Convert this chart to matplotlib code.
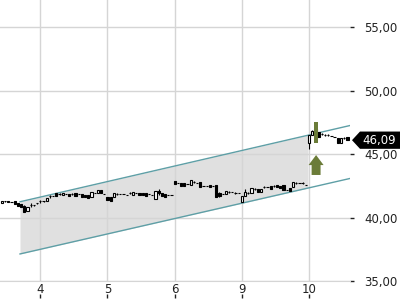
import matplotlib
matplotlib.use("Agg")
import matplotlib.pyplot as plt
from matplotlib.patches import Polygon, Rectangle
import numpy as np

opens = [41.14, 41.30, 41.28, 41.24, 41.30, 41.14, 41.06, 40.91, 40.51, 40.96,
         40.99, 41.12, 41.28, 41.31, 41.30, 41.67, 41.70, 41.93, 41.84, 41.77,
         41.86, 41.85, 41.84, 41.93, 41.86, 41.85, 41.77, 41.77, 41.61, 41.94,
         41.93, 42.17, 41.86, 41.61, 41.61, 41.61, 41.84, 41.86, 41.86, 41.78,
         41.92, 41.77, 41.94, 41.93, 41.93, 41.93, 41.86, 41.78, 41.46, 42.09,
         41.93, 41.85, 41.78, 41.78, 42.87, 42.73, 42.72, 42.72, 42.65, 42.56,
         42.79, 42.73, 42.80, 42.49, 42.49, 42.56, 42.49, 42.56, 41.93, 41.86,
         41.85, 42.00, 42.02, 41.92, 41.94, 41.22, 41.69, 41.92, 41.93, 42.23,
         42.24, 42.01, 42.39, 42.41, 42.48, 42.47, 42.56, 42.48, 42.56, 42.18,
         42.32, 42.40, 42.71, 42.73, 42.71, 42.57, 45.87, 46.50, 46.65, 46.73,
         46.56, 46.48, 46.48, 46.43, 46.35, 46.26, 45.87, 46.24, 46.34]
highs = [41.33, 41.32, 41.30, 41.26, 41.32, 41.16, 41.08, 40.95, 40.86, 41.14,
         41.01, 41.17, 41.38, 41.33, 41.57, 41.77, 41.72, 41.95, 41.93, 41.96,
         41.88, 41.87, 41.93, 41.95, 41.88, 41.87, 41.79, 41.79, 42.04, 41.96,
         42.20, 42.20, 41.88, 41.63, 41.63, 41.96, 41.93, 41.88, 41.88, 41.80,
         42.01, 42.04, 41.96, 41.95, 41.95, 41.95, 41.88, 41.80, 42.12, 42.24,
         41.95, 41.87, 41.80, 41.80, 42.90, 42.75, 42.74, 42.74, 42.67, 42.98,
         42.90, 42.75, 42.82, 42.51, 42.51, 42.58, 42.51, 42.58, 41.98, 41.88,
         42.12, 42.09, 42.04, 42.01, 41.96, 41.72, 42.24, 42.01, 42.35, 42.32,
         42.26, 42.27, 42.48, 42.43, 42.50, 42.56, 42.58, 42.50, 42.58, 42.20,
         42.34, 42.83, 42.80, 42.75, 42.80, 42.59, 46.53, 46.89, 47.00, 46.75,
         46.65, 46.57, 46.57, 46.45, 46.37, 46.28, 46.28, 46.34, 46.36]
lows = [41.12, 41.25, 41.24, 41.19, 41.04, 40.89, 40.80, 40.40, 40.48, 40.83,
        40.94, 41.10, 41.14, 41.26, 41.27, 41.54, 41.66, 41.67, 41.77, 41.75,
        41.82, 41.67, 41.77, 41.67, 41.82, 41.59, 41.59, 41.52, 41.58, 41.90,
        41.90, 41.90, 41.82, 41.36, 41.27, 41.58, 41.77, 41.82, 41.82, 41.74,
        41.85, 41.75, 41.90, 41.75, 41.75, 41.67, 41.82, 41.74, 41.43, 41.77,
        41.67, 41.59, 41.74, 41.74, 42.62, 42.69, 42.46, 42.46, 42.61, 42.53,
        42.72, 42.69, 42.38, 42.45, 42.45, 42.38, 42.45, 41.59, 41.60, 41.82,
        41.83, 41.93, 41.98, 41.85, 41.90, 41.19, 41.66, 41.85, 41.90, 42.16,
        41.99, 41.99, 42.32, 42.37, 42.22, 42.40, 42.38, 42.30, 42.15, 42.14,
        42.07, 42.38, 42.64, 42.69, 42.64, 42.53, 45.39, 46.47, 46.62, 46.32,
        46.50, 46.42, 46.42, 46.39, 46.31, 45.85, 45.85, 46.18, 46.07]
closes = [41.30, 41.27, 41.26, 41.21, 41.06, 40.91, 40.83, 40.43, 40.83, 40.99,
          40.96, 41.15, 41.31, 41.28, 41.54, 41.70, 41.68, 41.69, 41.87, 41.93,
          41.84, 41.69, 41.87, 41.69, 41.84, 41.61, 41.61, 41.54, 42.01, 41.92,
          42.17, 41.93, 41.84, 41.38, 41.30, 41.93, 41.87, 41.84, 41.84, 41.76,
          41.95, 42.01, 41.92, 41.77, 41.77, 41.69, 41.84, 41.76, 42.09, 41.93,
          41.69, 41.61, 41.76, 41.76, 42.64, 42.71, 42.48, 42.48, 42.63, 42.95,
          42.82, 42.71, 42.40, 42.47, 42.47, 42.40, 42.47, 41.61, 41.69, 41.84,
          42.09, 42.03, 42.00, 41.95, 41.92, 41.69, 42.01, 41.95, 42.32, 42.26,
          42.01, 42.24, 42.42, 42.39, 42.24, 42.50, 42.40, 42.32, 42.17, 42.16,
          42.09, 42.80, 42.74, 42.71, 42.74, 42.55, 46.50, 46.81, 46.97, 46.34,
          46.59, 46.51, 46.51, 46.41, 46.33, 45.87, 46.26, 46.27, 46.09]

tick_positions = [12, 33, 54, 75, 96]
tick_labels = ["4", "5", "6", "9", "10"]
y_ticks = [35, 40, 45, 50, 55]

channel_x = [5.65, 109.4]
channel_upper = [41.24, 47.28]
channel_lower = [37.13, 43.11]
channel_fill_end = 95.65

signal_index = 98.2
signal_bar = [45.87, 47.52]
signal_arrow = [43.35, 44.13, 44.92]  # bottom, head base, tip

last_price = 46.09

fig = plt.figure(figsize=(4, 3), dpi=100)
ax = fig.add_axes([0.0, 19 / 300, 350 / 400, 281 / 300])

x = np.arange(len(opens))
o = np.array(opens); h = np.array(highs); l = np.array(lows); c = np.array(closes)
up = c >= o

ax.set_xlim(-0.6, 108.8)
ax.set_ylim(35, 57.13)

# channel
slope_u = (channel_upper[1] - channel_upper[0]) / (channel_x[1] - channel_x[0])
slope_l = (channel_lower[1] - channel_lower[0]) / (channel_x[1] - channel_x[0])
fx = np.array([channel_x[0], channel_fill_end])
fu = channel_upper[0] + slope_u * (fx - channel_x[0])
fl = channel_lower[0] + slope_l * (fx - channel_x[0])
ax.fill_between(fx, fl, fu, color="#e0e0e0", zorder=0.3, linewidth=0)
ax.plot(channel_x, channel_upper, color="#5e9fa6", lw=1.0, zorder=2)
ax.plot(channel_x, channel_lower, color="#5e9fa6", lw=1.0, zorder=2)

# candles
ax.vlines(x, l, h, color="black", lw=0.8, zorder=3)
bw = 0.72
bottoms = np.minimum(o, c)
heights = np.abs(c - o)
ax.bar(x[up], heights[up], bw, bottom=bottoms[up], facecolor="white",
       edgecolor="black", linewidth=0.8, zorder=4)
ax.bar(x[~up], heights[~up], bw, bottom=bottoms[~up], facecolor="black",
       edgecolor="black", linewidth=0.8, zorder=4)

# signal marks
green = "#6b7c38"
ax.add_patch(Rectangle((signal_index - 0.6, signal_bar[0]), 1.2,
                       signal_bar[1] - signal_bar[0], facecolor=green,
                       edgecolor="none", zorder=5))
hw, sw = 2.35, 1.4
arrow_pts = [(signal_index - sw, signal_arrow[0]), (signal_index + sw, signal_arrow[0]),
             (signal_index + sw, signal_arrow[1]), (signal_index + hw, signal_arrow[1]),
             (signal_index, signal_arrow[2]), (signal_index - hw, signal_arrow[1]),
             (signal_index - sw, signal_arrow[1])]
ax.add_patch(Polygon(arrow_pts, closed=True, facecolor=green, edgecolor="none", zorder=5))

# grid & axes
ax.set_axisbelow(True)
ax.grid(True, color="#d5d5d5", lw=1.0, zorder=0.5)
for s in ["top", "left", "right"]:
    ax.spines[s].set_visible(False)
ax.spines["bottom"].set_color("#d5d5d5")
ax.yaxis.tick_right()
ax.set_yticks(y_ticks)
ax.set_yticklabels([f"{v:.2f}".replace(".", ",") for v in y_ticks])
ax.tick_params(axis="y", length=3, width=1, pad=7, labelsize=8.5,
               colors="#222222")
ax.set_xticks(tick_positions)
ax.set_xticklabels(tick_labels)
ax.tick_params(axis="x", length=0, pad=1.5, labelsize=8.5, colors="#222222")

sec = ax.secondary_xaxis(-0.046)
sec.set_xticks(tick_positions)
sec.set_xticklabels([])
sec.tick_params(length=3, width=1, color="#222222")
sec.spines["bottom"].set_visible(False)

# last price tag
tr = ax.get_yaxis_transform()
hh = 0.68
tag = [(352 / 350, last_price), (360 / 350, last_price + hh), (1.2, last_price + hh),
       (1.2, last_price - hh), (360 / 350, last_price - hh)]
ax.add_patch(Polygon(tag, closed=True, transform=tr, facecolor="black",
                     edgecolor="none", clip_on=False, zorder=10))
ax.text(379 / 350, last_price, f"{last_price:.2f}".replace(".", ","), transform=tr,
        color="white", fontsize=8.5, ha="center", va="center", zorder=11,
        clip_on=False)

fig.savefig("out.png", dpi=100)
